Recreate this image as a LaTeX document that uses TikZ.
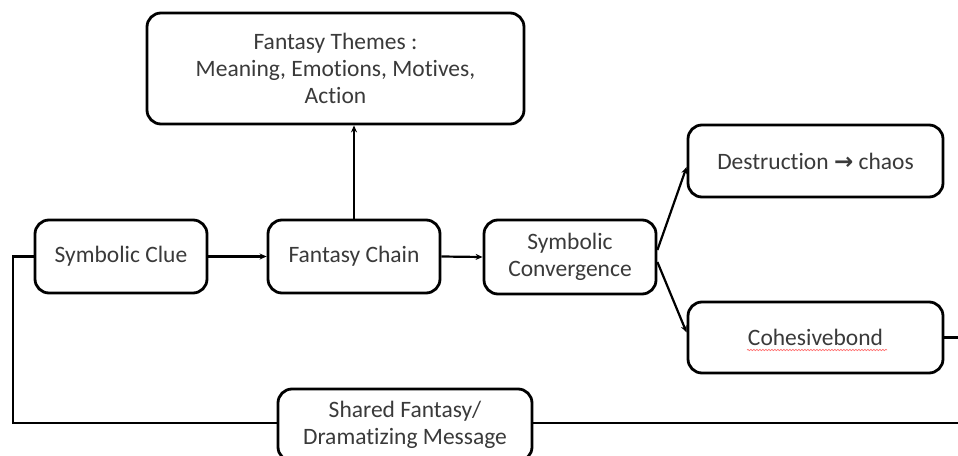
\documentclass[tikz,border=0pt]{standalone}
\usepackage{fontspec}
\setmainfont[Ligatures={NoCommon}]{Carlito}
\usetikzlibrary{arrows.meta,calc,decorations.pathmorphing}
\definecolor{txt}{HTML}{3A3A3A}
\begin{document}
\begin{tikzpicture}[x=1pt,y=-1pt,
  box/.style={draw=black,line width=2.8pt,rounded corners=14pt,fill=white,
    inner sep=0pt,align=center,text=txt,font=\fontsize{23.5}{27}\selectfont},
  conn/.style={draw=black,line width=2.2pt},
  arr/.style={conn,-{Stealth[length=7pt,width=6pt]}}]
\useasboundingbox (0,0) rectangle (958,455);
\clip (0,0) rectangle (958,455);
\fill[white] (0,0) rectangle (958,455);
\node[box,minimum width=254pt,minimum height=72pt] (shared) at (405,425) {Shared Fantasy/\\Dramatizing Message};
\node[box,minimum width=172pt,minimum height=73pt] (clue) at (121,256.5) {Symbolic Clue};
\node[box,minimum width=255pt,minimum height=71pt] (cohes) at (815.5,337.5) {Cohesivebond};
\coordinate (lt) at (13,256.5);
\coordinate (lb) at (13,423);
\coordinate (re) at (965,423);
\coordinate (rc) at (965,337.5);
\draw[conn] (clue.west) -- (lt) -- (lb) -- (lb -| shared.west);
\draw[conn] (shared.east |- re) -- (re);
\draw[conn] (cohes.east) -- (rc);
\node[box,minimum width=377pt,minimum height=111pt] (themes) at (335.5,68.5) {Fantasy Themes :\\Meaning, Emotions, Motives,\\Action};
\node[box,minimum width=172pt,minimum height=73pt] (chain) at (354,256.5) {Fantasy Chain};
\node[box,minimum width=172pt,minimum height=74pt] (conv) at (570,257) {Symbolic\\Convergence};
\node[box,minimum width=255pt,minimum height=72pt] (destr) at (815.5,161) {Destruction {\fontspec{DejaVu Sans}\fontsize{23}{24}\selectfont\textbf{→}} chaos};
\draw[red!55,line width=0.7pt,decorate,decoration={snake,amplitude=0.7pt,segment length=3pt}] (747,350) -- (887,350);
\draw[arr] (clue.east) -- (chain.west);
\draw[arr] (chain.east) -- (conv.west);
\draw[arr] (chain.north) -- (themes.south -| chain.north);
\draw[arr] ($(conv.east)+(0,-7)$) -- ($(destr.west)+(0,6)$);
\draw[arr] ($(conv.east)+(0,5)$) -- ($(cohes.west)+(0,-5)$);
\end{tikzpicture}
\end{document}
